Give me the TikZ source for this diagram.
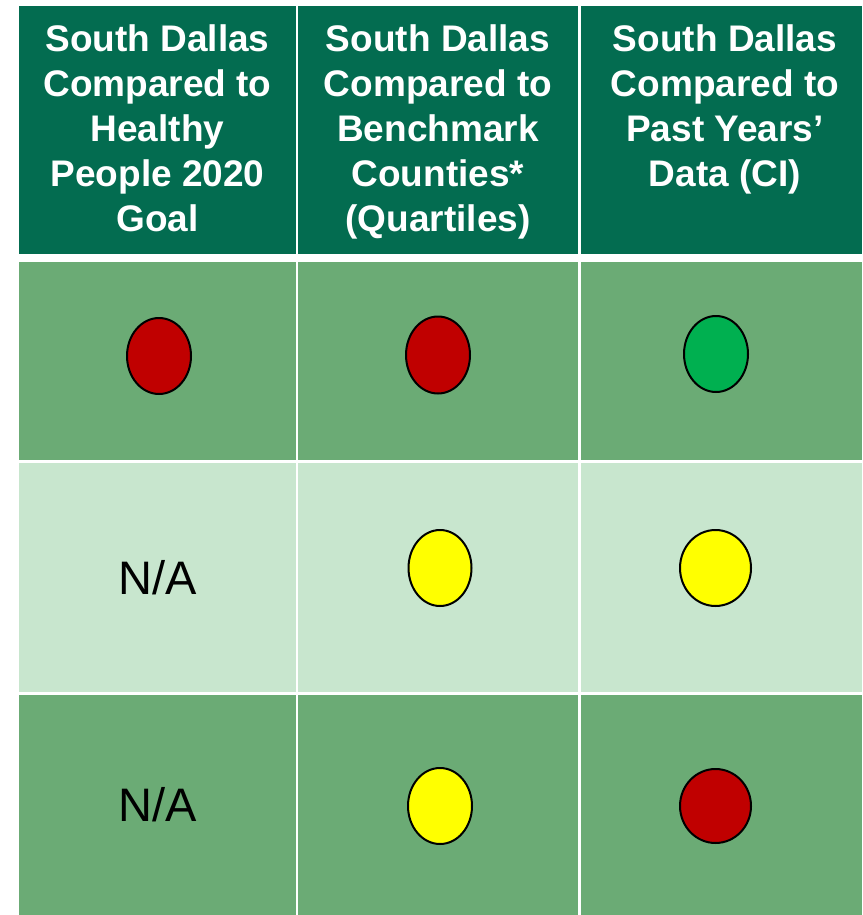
\documentclass[tikz,border=0pt]{standalone}
\usepackage{fontspec}
\setmainfont{Liberation Sans}
\usetikzlibrary{positioning,shapes.geometric}

\definecolor{headgreen}{RGB}{3,108,80}
\definecolor{midgreen}{RGB}{107,171,117}
\definecolor{palegreen}{RGB}{200,230,206}
\definecolor{dotred}{RGB}{192,0,0}
\definecolor{dotgreen}{RGB}{0,176,80}
\definecolor{dotyellow}{RGB}{255,255,0}

\tikzset{
    cell/.style={rectangle, inner sep=0pt, outer sep=0pt, anchor=north west},
    headcell/.style={cell, fill=headgreen},
    darkcell/.style={cell, fill=midgreen, font=\fontsize{47}{56}\selectfont},
    palecell/.style={cell, fill=palegreen, font=\fontsize{47}{56}\selectfont},
    headtext/.style={text=white, align=center, inner sep=0pt,
        font=\fontsize{37}{45}\selectfont\bfseries},
    dot/.style={draw, ellipse, line width=2pt, inner sep=0pt}
}

\begin{document}
\begin{tikzpicture}[x=1pt, y=-1pt]
            \useasboundingbox (0,0) rectangle (862,915);

            % header row
            \node[headcell, minimum width=277, minimum height=248] (h1) at (19,6) {};
            \node[headcell, minimum width=280, minimum height=248] (h2) at (298,6) {};
            \node[headcell, minimum width=281, minimum height=248] (h3) at (581,6) {};

            \node[headtext, below=18pt of h1.north] (t1) {South Dallas\\Compared to\\Healthy\\People 2020\\Goal};
            \node[headtext, below=18pt of h2.north] (t2) {South Dallas\\Compared to\\Benchmark\\Counties*\\(Quartiles)};
            \node[headtext, below=18pt of h3.north, xshift=3.5pt] (t3) {South Dallas\\Compared to\\Past Years’\\Data (CI)};

            % first row
            \node[darkcell, minimum width=277, minimum height=198] (a1) at (19,262) {};
            \node[darkcell, minimum width=280, minimum height=198] (a2) at (298,262) {};
            \node[darkcell, minimum width=281, minimum height=198] (a3) at (581,262) {};

            % second row
            \node[palecell, minimum width=277, minimum height=229] (b1) at (19,463) {N/A};
            \node[palecell, minimum width=280, minimum height=229] (b2) at (298,463) {};
            \node[palecell, minimum width=281, minimum height=229] (b3) at (581,463) {};

            % third row
            \node[darkcell, minimum width=277, minimum height=220] (c1) at (19,695) {N/A};
            \node[darkcell, minimum width=280, minimum height=220] (c2) at (298,695) {};
            \node[darkcell, minimum width=281, minimum height=220] (c3) at (581,695) {};

            % dots
            \node[dot, fill=dotred, minimum width=64, minimum height=76] (da1) at (159,356) {};
            \node[dot, fill=dotred, minimum width=64, minimum height=77] (da2) at (438,355) {};
            \node[dot, fill=dotgreen, minimum width=64, minimum height=76] (da3) at (716,354) {};
            \node[dot, fill=dotyellow, minimum width=63, minimum height=76] (db2) at (440,568) {};
            \node[dot, fill=dotyellow, minimum width=71, minimum height=76] (db3) at (715.5,568) {};
            \node[dot, fill=dotyellow, minimum width=64, minimum height=76] (dc2) at (440,806) {};
            \node[dot, fill=dotred, minimum width=71, minimum height=74] (dc3) at (715.5,806) {};

        \end{tikzpicture}
\end{document}
